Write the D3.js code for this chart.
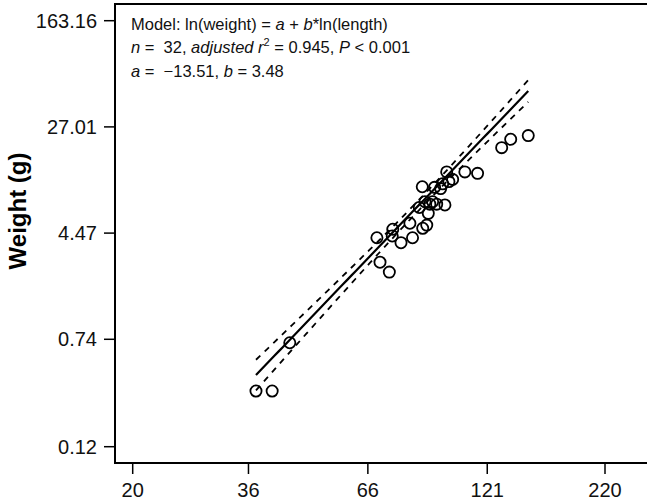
<!DOCTYPE html>
<html>
<head>
<meta charset="utf-8">
<script src="https://cdn.jsdelivr.net/npm/d3@7"></script>
<style>
  html, body { margin: 0; padding: 0; background: #fff; }
  svg { display: block; font-family: "Liberation Sans", Arial, Helvetica, sans-serif; }
  text { white-space: pre; }
</style>
</head>
<body>
<svg id="chart" width="647" height="502"></svg>
<script>
// Fish length (mm) and weight (g)
const lengthMm = [149.0, 136.3, 130.2, 115.2, 108.0, 98.5, 101.5, 99.6, 95.5, 92.6, 87.0,
                  97.6, 93.6, 90.4, 88.2, 85.7, 89.7, 89.0, 87.2, 81.7, 82.8, 78.1,
                  74.9, 74.7, 69.1, 70.2, 73.6, 37.4, 40.6, 44.4, 96.5, 91.7];
const weightG = [23.3, 21.9, 19.0, 12.3, 12.6, 12.6, 11.1, 10.7, 9.5, 9.7, 9.8,
                 7.2, 7.3, 7.3, 7.6, 6.9, 6.25, 5.12, 4.85, 5.28, 4.13, 3.80,
                 4.77, 4.26, 4.13, 2.73, 2.31, 0.308, 0.308, 0.698, 10.3, 7.6];

// Axis ticks (log scales)
const xTicks = [20, 36, 66, 121, 220];
const yTicks = [0.12, 0.74, 4.47, 27.01, 163.16];

// Fitted model ln(weight) = a + b*ln(length)
const coefA = -13.51;
const coefB = 3.48;
const nObs = 32;
const adjR2 = 0.945;
const pText = "0.001";
const tCrit = 2.042; // t(0.975, df = 30)

const svg = d3.select("#chart");

const x = d3.scaleLog().domain([20, 220]).range([132.7, 605]);
const y = d3.scaleLog().domain([0.12, 163.16]).range([446.7, 20.7]);

const frame = { left: 115, top: 4, bottom: 463 };

// Plot frame (right edge runs past the canvas)
svg.append("rect")
  .attr("x", frame.left).attr("y", frame.top)
  .attr("width", 560).attr("height", frame.bottom - frame.top)
  .attr("fill", "none").attr("stroke", "#000").attr("stroke-width", 2);

// Y axis
const yAxis = svg.append("g");
yTicks.forEach(v => {
  yAxis.append("line")
    .attr("x1", frame.left - 11).attr("x2", frame.left)
    .attr("y1", y(v)).attr("y2", y(v))
    .attr("stroke", "#000").attr("stroke-width", 1.5);
  yAxis.append("text")
    .attr("x", 97).attr("y", y(v)).attr("dy", "0.36em")
    .attr("text-anchor", "end").attr("font-size", 20).attr("fill", "#111")
    .text(d3.format(".2f")(v));
});

// X axis
const xAxis = svg.append("g");
xTicks.forEach(v => {
  xAxis.append("line")
    .attr("x1", x(v)).attr("x2", x(v))
    .attr("y1", frame.bottom).attr("y2", frame.bottom + 11)
    .attr("stroke", "#000").attr("stroke-width", 1.5);
  xAxis.append("text")
    .attr("x", x(v)).attr("y", 497)
    .attr("text-anchor", "middle").attr("font-size", 20).attr("fill", "#111")
    .text(v);
});

// Y axis title
svg.append("text")
  .attr("transform", "translate(26,211) rotate(-90)")
  .attr("text-anchor", "middle")
  .attr("font-size", 24).attr("font-weight", "bold")
  .text("Weight (g)");

// Regression statistics in log space
const lx = lengthMm.map(Math.log);
const ly = weightG.map(Math.log);
const n = lx.length;
const xbar = d3.mean(lx), ybar = d3.mean(ly);
const sxx = d3.sum(lx, v => (v - xbar) ** 2);
const sxy = d3.sum(lx.map((v, i) => (v - xbar) * (ly[i] - ybar)));
const slopeLS = sxy / sxx;
const interLS = ybar - slopeLS * xbar;
const sse = d3.sum(lx.map((v, i) => (ly[i] - (interLS + slopeLS * v)) ** 2));
const sRes = Math.sqrt(sse / (n - 2));

const xMin = d3.min(lengthMm), xMax = d3.max(lengthMm);
const fitPts = d3.range(0, 61).map(i => {
  const L = Math.exp(Math.log(xMin) + (Math.log(xMax) - Math.log(xMin)) * i / 60);
  const lnL = Math.log(L);
  const fit = coefA + coefB * lnL;
  const half = tCrit * sRes * Math.sqrt(1 / n + (lnL - xbar) ** 2 / sxx);
  return { L, fit: Math.exp(fit), lo: Math.exp(fit - half), hi: Math.exp(fit + half) };
});

const lineOf = key => d3.line().x(d => x(d.L)).y(d => y(d[key]));

svg.append("path").datum(fitPts).attr("d", lineOf("hi"))
  .attr("fill", "none").attr("stroke", "#000").attr("stroke-width", 1.8)
  .attr("stroke-dasharray", "6,6");
svg.append("path").datum(fitPts).attr("d", lineOf("lo"))
  .attr("fill", "none").attr("stroke", "#000").attr("stroke-width", 1.8)
  .attr("stroke-dasharray", "6,6");
svg.append("path").datum(fitPts).attr("d", lineOf("fit"))
  .attr("fill", "none").attr("stroke", "#000").attr("stroke-width", 2.2);

// Observations
svg.append("g").selectAll("circle")
  .data(lengthMm.map((L, i) => ({ L, W: weightG[i] })))
  .join("circle")
  .attr("cx", d => x(d.L)).attr("cy", d => y(d.W))
  .attr("r", 5.6)
  .attr("fill", "none").attr("stroke", "#000").attr("stroke-width", 1.8);

// Model annotation
const note = svg.append("g").attr("font-size", 16.5).attr("fill", "#111");
const addLine = (yPos, parts) => {
  const t = note.append("text").attr("x", 131).attr("y", yPos);
  parts.forEach(p => {
    const s = t.append("tspan").text(p.t);
    if (p.i) s.attr("font-style", "italic");
    if (p.sup) s.attr("font-size", 11).attr("dy", -7);
    if (p.down) s.attr("dy", 7);
  });
};
addLine(30, [
  { t: "Model: ln(weight) = " }, { t: "a", i: true }, { t: " + " },
  { t: "b", i: true }, { t: "*ln(length)" }
]);
addLine(53, [
  { t: "n", i: true }, { t: " =  " + nObs + ", " }, { t: "adjusted r", i: true },
  { t: "2", sup: true }, { t: " = " + adjR2.toFixed(3) + ", ", down: true },
  { t: "P", i: true }, { t: " < " + pText }
]);
addLine(77, [
  { t: "a", i: true }, { t: " =  " + (coefA < 0 ? "\u2212" : "") + Math.abs(coefA).toFixed(2) + ", " },
  { t: "b", i: true }, { t: " = " + coefB.toFixed(2) }
]);
</script>
</body>
</html>
